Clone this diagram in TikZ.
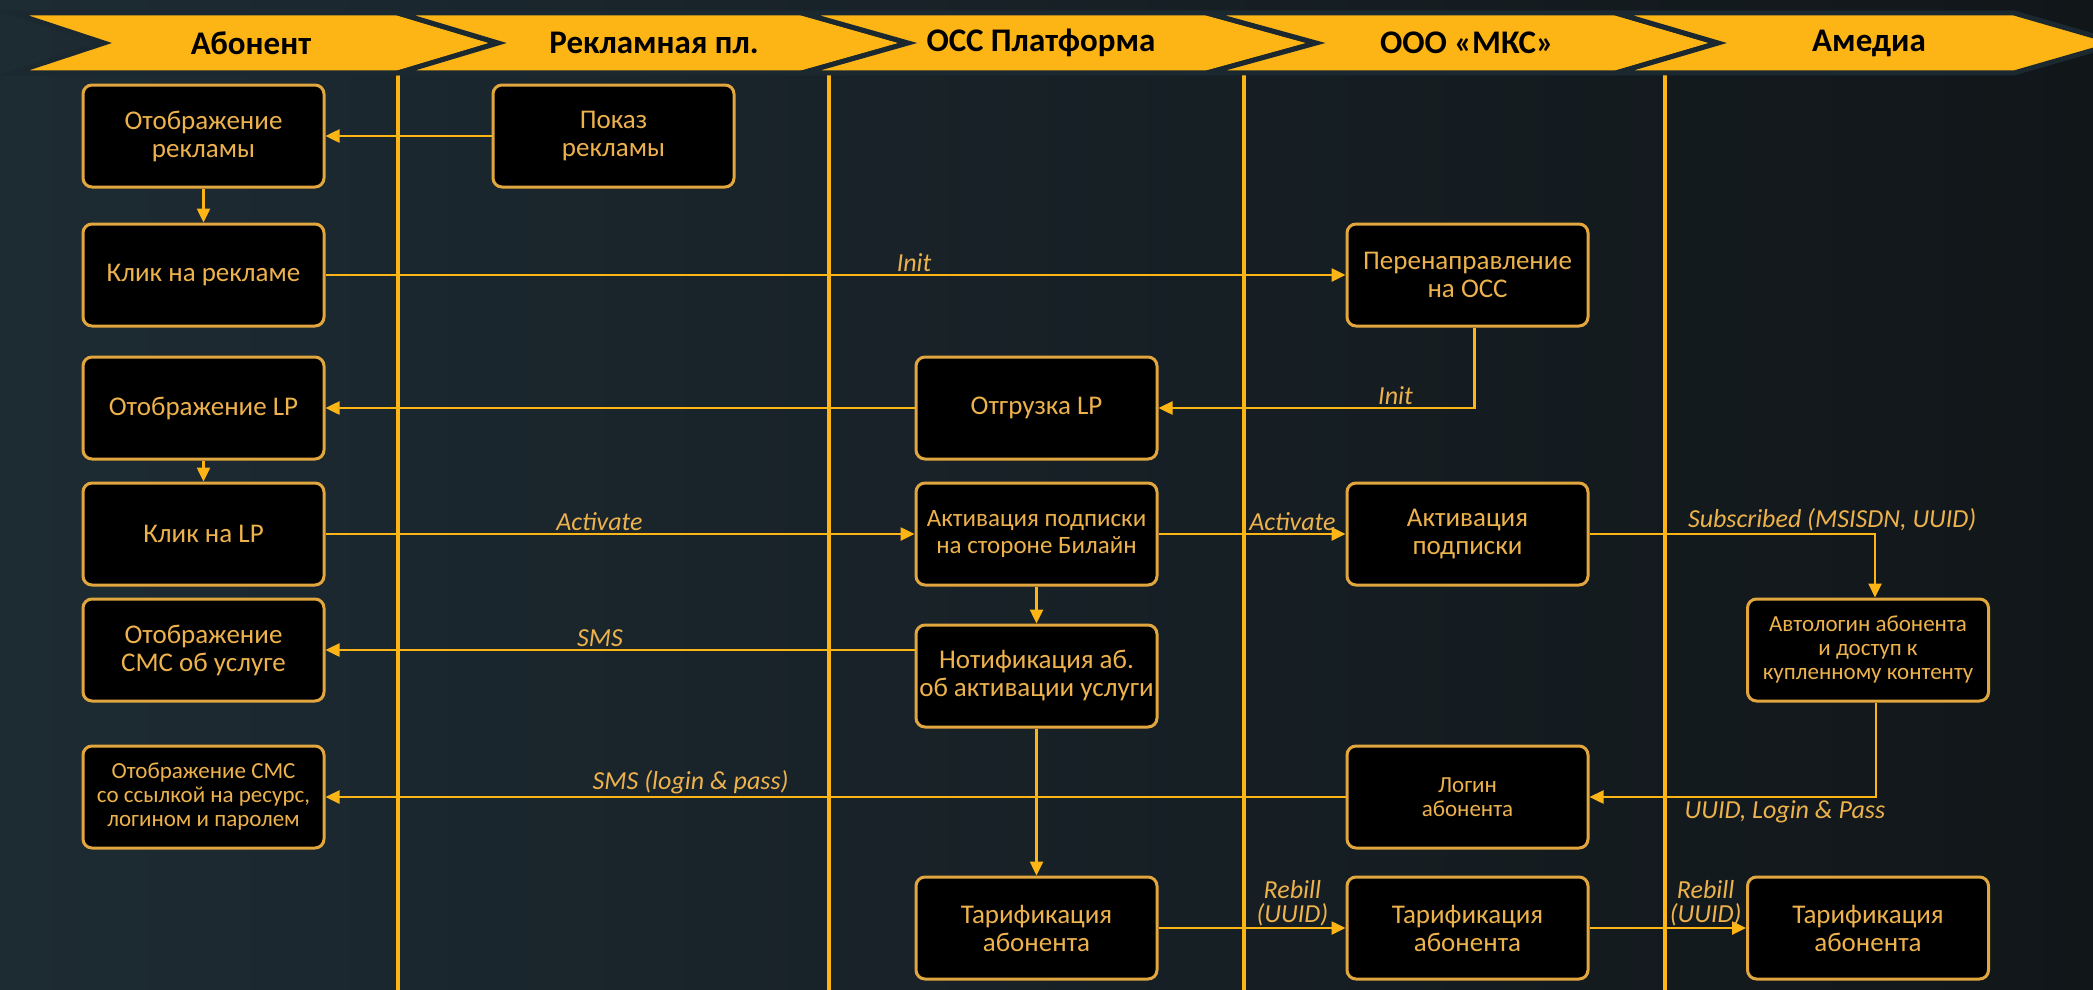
\documentclass[tikz,border=0pt]{standalone}
\usepackage{fontspec}
\setmainfont{Carlito}
\usetikzlibrary{arrows.meta}
\definecolor{bgL}{HTML}{1D2B33}
\definecolor{bgR}{HTML}{111619}
\definecolor{hdrc}{HTML}{FDB515}
\definecolor{darkc}{HTML}{1B282F}
\definecolor{boxline}{HTML}{E2A63E}
\definecolor{boxtxt}{HTML}{EDB24C}
\definecolor{arrc}{HTML}{FDB515}
\newcommand\bxfont{\fontsize{27}{28}\selectfont}
\newcommand\mdfont{\fontsize{25}{27}\selectfont}
\newcommand\smfont{\fontsize{23}{24}\selectfont}
\newcommand\lbfont{\fontsize{26}{24}\selectfont\itshape}
\newcommand\hdfont{\fontsize{33}{36}\selectfont\bfseries}
\tikzset{
  box/.style={draw=boxline, fill=black, rounded corners=9pt, line width=3pt,
    minimum width=241pt, minimum height=102pt, align=center, text=boxtxt,
    font=\bxfont, inner sep=1pt},
  smallbox/.style={box, font=\smfont},
  arr/.style={draw=arrc, line width=2.5pt, -{Triangle[length=14pt,width=13pt]}},
  lbl/.style={text=boxtxt, font=\lbfont, align=center, inner sep=2pt},
  lane/.style={draw=arrc, line width=3.5pt},
  hdr/.style={fill=hdrc, draw=darkc, line width=5pt, line join=miter},
  hdrtxt/.style={font=\hdfont, text=black}
}
\begin{document}
\begin{tikzpicture}[x=1pt,y=-1pt]
\useasboundingbox (0,0) rectangle (2093,990);
\clip (0,0) rectangle (2093,990);
\fill[left color=bgL, right color=bgR] (0,0) rectangle (2093,990);
% lane lines
\foreach \lx in {398,829,1244,1665} { \draw[lane] (\lx,73) -- (\lx,995); }
% header chevrons
\def\hdT{13}\def\hdB{73}\def\hdM{43}
\draw[hdr] (13,\hdT) -- (398,\hdT) -- (498,\hdM) -- (398,\hdB) -- (13,\hdB) -- (104,\hdM) -- cycle;
\draw[hdr] (398,\hdT) -- (802,\hdT) -- (908,\hdM) -- (802,\hdB) -- (398,\hdB) -- (498,\hdM) -- cycle;
\draw[hdr] (802,\hdT) -- (1207,\hdT) -- (1316,\hdM) -- (1207,\hdB) -- (802,\hdB) -- (908,\hdM) -- cycle;
\draw[hdr] (1207,\hdT) -- (1616,\hdT) -- (1718,\hdM) -- (1616,\hdB) -- (1207,\hdB) -- (1316,\hdM) -- cycle;
\draw[hdr] (1616,\hdT) -- (2014,\hdT) -- (2118,\hdM) -- (2014,\hdB) -- (1616,\hdB) -- (1718,\hdM) -- cycle;
\node[hdrtxt] (h1) at (251,\hdM) {Абонент};
\node[hdrtxt] (h2) at (654,\hdM) {Рекламная пл.};
\node[hdrtxt] (h3) at (1041,\hdM) {ОСС Платформа};
\node[hdrtxt] (h4) at (1467,\hdM) {ООО «МКС»};
\node[hdrtxt] (h5) at (1869,\hdM) {Амедиа};
% boxes
\node[box] (b1) at (203.5,136) {Отображение\\рекламы};
\node[box] (p1) at (613.5,136) {Показ\\рекламы};
\node[box] (b2) at (203.5,275) {Клик на рекламе};
\node[box] (m1) at (1467.5,275) {Перенаправление\\на ОСС};
\node[box] (b3) at (203.5,408) {Отображение LP};
\node[box] (o1) at (1036.5,408) {Отгрузка LP};
\node[box] (b4) at (203.5,534) {Клик на LP};
\node[box, font=\mdfont] (o2) at (1036.5,534) {Активация подписки\\на стороне Билайн};
\node[box] (m2) at (1467.5,534) {Активация\\подписки};
\node[box] (b5) at (203.5,650) {Отображение\\СМС об услуге};
\node[box] (o3) at (1036.5,676) {Нотификация аб.\\об активации услуги};
\node[smallbox] (a1) at (1868,650) {Автологин абонента\\и доступ к\\купленному контенту};
\node[smallbox] (b6) at (203.5,797) {Отображение СМС\\со ссылкой на ресурс,\\логином и паролем};
\node[smallbox] (m3) at (1467.5,797) {Логин\\абонента};
\node[box] (o4) at (1036.5,928) {Тарификация\\абонента};
\node[box] (m4) at (1467.5,928) {Тарификация\\абонента};
\node[box] (a2) at (1868,928) {Тарификация\\абонента};
% connectors
\draw[arr] (p1) -- (b1);
\draw[arr] (b1) -- (b2);
\draw[arr] (b2) -- node[lbl, above, pos=0.577] {Init} (m1);
\draw[arr] ([xshift=7pt]m1.south) |- node[lbl, above, pos=0.625] {Init} (o1);
\draw[arr] (o1) -- (b3);
\draw[arr] (b3) -- (b4);
\draw[arr] (b4) -- node[lbl, above, pos=0.465] {Activate} (o2);
\draw[arr] (o2) -- node[lbl, above, pos=0.716] {Activate} (m2);
\draw[arr] (o2) -- (o3);
\draw[arr] (o3.west |- b5.east) -- node[lbl, above, pos=0.534] {SMS} (b5.east);
\draw[arr] (m2) -| node[lbl, above, pos=0.425] {Subscribed (MSISDN, UUID)} ([xshift=7pt]a1.north);
\draw[arr] ([xshift=8pt]a1.south) |- node[lbl, below, pos=0.659] {UUID, Login \& Pass} (m3);
\draw[arr] (m3) -- node[lbl, above, pos=0.642] {SMS (login \& pass)} (b6);
\draw[arr] (o3) -- (o4);
\draw[arr] (o4) -- node[lbl, above, pos=0.716, inner sep=1pt] {Rebill\\(UUID)} (m4);
\draw[arr] (m4) -- node[lbl, above, pos=0.742, inner sep=1pt] {Rebill\\(UUID)} (a2);
\end{tikzpicture}
\end{document}
